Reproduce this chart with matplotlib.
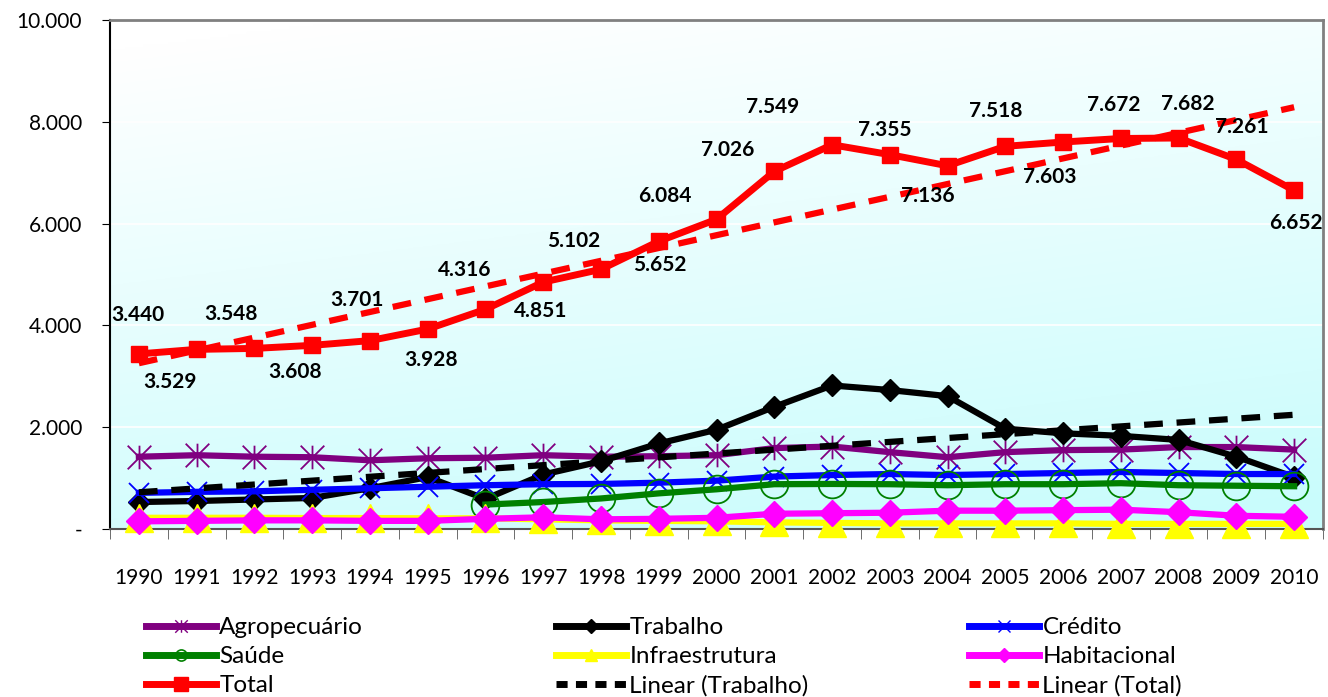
import matplotlib
matplotlib.use('Agg')
import matplotlib.pyplot as plt
from matplotlib.path import Path
from matplotlib.lines import Line2D
import numpy as np

# dados
anos = [str(a) for a in range(1990, 2011)]
agropecuario = [1420, 1450, 1420, 1410, 1350, 1390, 1400, 1450, 1420, 1430, 1450, 1590, 1620, 1510, 1410, 1510, 1550, 1560, 1610, 1610, 1560]
trabalho = [530, 550, 580, 610, 800, 1020, 590, 1070, 1330, 1680, 1950, 2400, 2820, 2730, 2610, 1970, 1880, 1830, 1750, 1420, 1020]
credito = [710, 730, 740, 770, 800, 830, 860, 880, 885, 910, 950, 1030, 1060, 1080, 1060, 1080, 1100, 1120, 1100, 1080, 1080]
saude = [np.nan] * 6 + [480, 530, 600, 700, 780, 880, 885, 880, 860, 880, 880, 900, 860, 850, 840]
infraestrutura = [220, 220, 220, 215, 215, 210, 210, 190, 170, 160, 150, 130, 120, 110, 110, 110, 110, 100, 100, 100, 100]
habitacional = [150, 160, 170, 170, 160, 160, 200, 230, 190, 200, 220, 300, 310, 320, 360, 360, 370, 380, 330, 260, 240]
total = [3440, 3529, 3548, 3608, 3701, 3928, 4316, 4851, 5102, 5652, 6084, 7026, 7549, 7355, 7136, 7518, 7603, 7672, 7682, 7261, 6652]
rotulos_total = ['3.440', '3.529', '3.548', '3.608', '3.701', '3.928', '4.316', '4.851', '5.102', '5.652', '6.084',
                 '7.026', '7.549', '7.355', '7.136', '7.518', '7.603', '7.672', '7.682', '7.261', '6.652']
# deslocamento dos rotulos (pixels)
desloc = [(-1, 39), (-27, -33), (-23, 34), (-17, -27), (-13, 41), (3, -31), (-21, 39), (-3, -29), (-27, 28),
          (1, -24), (-52, 23), (-47, 21), (-59, 38), (-5, 25), (-20, -30), (-10, 35), (-13, -35), (-7, 33),
          (9, 34), (5, 32), (2, -33)]

plt.rcParams['font.family'] = ['Lato', 'DejaVu Sans']

x = np.arange(len(anos))
fig = plt.figure(figsize=(13.28, 6.97), dpi=100)
ax = fig.add_axes([110 / 1328, 1 - 529 / 697, 1213 / 1328, 509 / 697])

# fundo degrade (branco em cima, ciano embaixo)
yy, xx = np.mgrid[0:1:200j, 0:1:200j]
t = np.clip(0.85 * yy + 0.25 * xx - 0.05, 0, 1)
top = np.array([1.0, 1.0, 1.0])
bot = np.array([0.79, 0.99, 0.99])
grad = top * (1 - t[..., None]) + bot * t[..., None]
ax.imshow(grad, extent=[0, 1, 0, 1], transform=ax.transAxes, aspect='auto', zorder=0, origin='upper')

for g in [2000, 4000, 6000, 8000]:
    ax.axhline(g, color='white', lw=1.2, zorder=1)

asterisco = Path([(0, -1), (0, 1), (-1, -1), (1, 1), (-1, 1), (1, -1)],
                 [Path.MOVETO, Path.LINETO, Path.MOVETO, Path.LINETO, Path.MOVETO, Path.LINETO])

ax.plot(x, agropecuario, color='#800080', lw=4.5, marker=asterisco, ms=17, mew=1.3, mec='#800080', zorder=3)
ax.plot(x, trabalho, color='black', lw=4.5, marker='D', ms=11, zorder=3)
ax.plot(x, credito, color='#0000ff', lw=4.5, marker='x', ms=15, mew=1.3, zorder=3)
ax.plot(x, saude, color='#008000', lw=4.5, marker='o', ms=20, mfc='none', mec='#008000', mew=1.3, zorder=3)
ax.plot(x, infraestrutura, color='#ffff00', lw=4.5, marker='^', ms=20, zorder=3, clip_on=False)
ax.plot(x, habitacional, color='#ff00ff', lw=4.5, marker='D', ms=13, zorder=3, clip_on=False)
ax.plot(x, total, color='#ff0000', lw=5, marker='s', ms=11, zorder=4)

# linhas de tendencia
a1, b1 = np.polyfit(x, trabalho, 1)
a2, b2 = np.polyfit(x, total, 1)
ax.plot(x, a1 * x + b1, color='black', lw=4.5, ls=(0, (3, 2.2)), zorder=5)
ax.plot(x, a2 * x + b2, color='#ff0000', lw=4.5, ls=(0, (3, 2.2)), zorder=5)

for i, txt in enumerate(rotulos_total):
    ax.annotate(txt, (x[i], total[i]), xytext=desloc[i], textcoords='offset pixels',
                ha='center', va='center', fontsize=15, fontweight='bold', zorder=6)

ax.set_xlim(-0.5, len(anos) - 0.5)
ax.set_ylim(0, 10000)
ax.set_yticks([0, 2000, 4000, 6000, 8000, 10000])
ax.set_yticklabels(['-', '2.000', '4.000', '6.000', '8.000', '10.000'], fontsize=15)
ax.set_xticks(x)
ax.set_xticklabels(anos, fontsize=15)
ax.set_xticks(np.arange(-0.5, len(anos)), minor=True)
ax.tick_params(axis='x', which='major', length=0, pad=28)
ax.tick_params(axis='x', which='minor', length=7, direction='out', color='#555555')
ax.tick_params(axis='y', length=6, direction='out', pad=14)

ax.spines['left'].set_color('black')
ax.spines['left'].set_linewidth(1.5)
ax.spines['bottom'].set_color('#555555')
ax.spines['bottom'].set_linewidth(1.5)
ax.spines['top'].set_color('#808080')
ax.spines['top'].set_linewidth(2)
ax.spines['right'].set_color('#808080')
ax.spines['right'].set_linewidth(2)

# legenda em tres colunas
def h(cor, mk, ls='-', **kw):
    return Line2D([], [], color=cor, lw=5, ls=ls, marker=mk, **kw)

colunas = [
    [(h('#800080', asterisco, ms=9, mew=1, mec='#800080'), 'Agropecuário'),
     (h('#008000', 'o', ms=8, mfc='none', mec='#008000', mew=1.2), 'Saúde'),
     (h('#ff0000', 's', ms=10), 'Total')],
    [(h('black', 'D', ms=7), 'Trabalho'),
     (h('#ffff00', '^', ms=9), 'Infraestrutura'),
     (h('black', None, ls=(0, (1.6, 1.2))), 'Linear (Trabalho)')],
    [(h('#0000ff', 'x', ms=8, mew=1), 'Crédito'),
     (h('#ff00ff', 'D', ms=7), 'Habitacional'),
     (h('#ff0000', None, ls=(0, (1.6, 1.2))), 'Linear (Total)')],
]
xs = [146, 556, 969]
for cx, col in zip(xs, colunas):
    fig.legend([c[0] for c in col], [c[1] for c in col], loc='upper left',
               bbox_to_anchor=(cx / 1328, 1 - 617 / 697), frameon=False, borderpad=0,
               borderaxespad=0, handlelength=2.9, handletextpad=0.12, labelspacing=0.33,
               prop={'size': 17.5})

fig.savefig('out.png', dpi=100)
